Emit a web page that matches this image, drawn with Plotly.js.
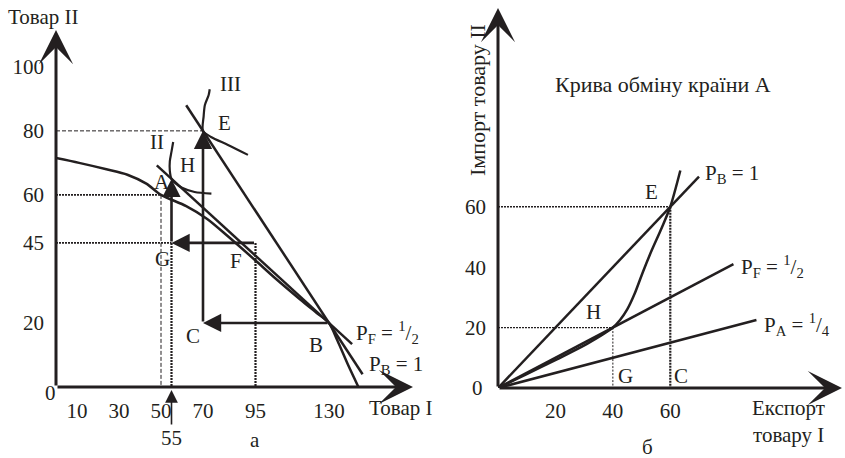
<!DOCTYPE html>
<html><head><meta charset="utf-8">
<script src="https://cdn.plot.ly/plotly-3.0.1.min.js"></script>
<style>html,body{margin:0;padding:0;background:#fff}#chart{width:845px;height:458px}</style>
</head><body><div id="chart"></div>
<script>
// ---------- Panel а: production frontier, price lines, indifference curves ----------
const ppfX = [0, 11, 24, 34, 43, 50, 62, 72, 82, 95, 104, 116, 124, 130, 134, 139, 144];
const ppfY = [71.5, 70, 68, 66.3, 63.5, 60, 56.5, 52.5, 47, 39.5, 34.2, 27.5, 23.2, 20, 14.5, 7, 0];
const icIIX = [55.8, 55, 54.2, 54.2, 55, 57, 60, 66, 74];
const icIIY = [76.5, 73.5, 70.5, 67.5, 65, 63.6, 62.2, 60.9, 60.4];
const icIIIX = [73.2, 72.7, 70.9, 70.3, 70, 73.8, 81.9, 91.4];
const icIIIY = [93, 91.2, 88.1, 84.5, 80, 78.1, 75.6, 72.5];
const priceFX = [48, 141];      // P_F = 1/2
const priceFY = [69.2, 13.4];
const priceBX = [62, 146];      // P_B = 1
const priceBY = [88, 4];
// named points of panel а
const ptA = [50, 60], ptB = [130, 20], ptC = [70, 20], ptE = [70, 80];
const ptF = [95, 45], ptG = [55, 45], ptH = [55, 65];
const aXTicks = [10, 30, 50, 70, 95, 130];
const aYTicks = [20, 45, 60, 80, 100];

// ---------- Panel б: offer curve of country A ----------
const offerX = [0, 10, 20.5, 31, 40, 42.5, 45, 47.5, 50.5, 53.5, 57, 60, 63.5];
const offerY = [0, 4.6, 9.5, 14.6, 20, 22.5, 26, 31, 38.5, 45.5, 53, 60, 72];
const rayBX = [0, 70], rayBY = [0, 70];     // P_B = 1
const rayFX = [0, 82], rayFY = [0, 41];     // P_F = 1/2
const rayAX = [0, 90], rayAY = [0, 22.5];   // P_A = 1/4
const bE = [60, 60], bH = [40, 20];
const bXTicks = [20, 40, 60];
const bYTicks = [20, 40, 60];

const INK = '#231f20';
const FONT = 'Liberation Serif, Times New Roman, serif';
const FS = 21;

function line(x, y, ax, opts) {
  const o = opts || {};
  return {
    x: x, y: y, xaxis: ax === 2 ? 'x2' : 'x', yaxis: ax === 2 ? 'y2' : 'y',
    mode: 'lines', hoverinfo: 'skip',
    line: { color: INK, width: o.width || 2.5, dash: o.dash || 'solid',
            shape: o.spline ? 'spline' : 'linear', smoothing: 0.8 }
  };
}

const thinDash = { width: 1, dash: '4px,2px' };
const denseDot = { width: 1.6, dash: '2px,1px' };
const thickDot = { width: 2.2, dash: '2px,1px' };

const traces = [
  // guides of panel а
  line([0, ptE[0]], [ptE[1], ptE[1]], 1, thinDash),
  line([0, ptA[0]], [ptA[1], ptA[1]], 1, denseDot),
  line([ptA[0], ptA[0]], [ptA[1], 0], 1, thinDash),
  line([0, ptG[0]], [ptG[1], ptG[1]], 1, denseDot),
  line([ptG[0], ptG[0]], [ptG[1], 0], 1, thickDot),
  line([ptF[0], ptF[0]], [ptF[1], 0], 1, thickDot),
  // curves of panel а
  line(ppfX, ppfY, 1, { spline: true }),
  line(icIIX, icIIY, 1, { spline: true, width: 2.2 }),
  line(icIIIX, icIIIY, 1, { spline: true, width: 2.2 }),
  line(priceFX, priceFY, 1),
  line(priceBX, priceBY, 1),
  // guides of panel б
  line([0, bE[0]], [bE[1], bE[1]], 2, denseDot),
  line([bE[0], bE[0]], [bE[1], 0], 2, thickDot),
  line([0, bH[0]], [bH[1], bH[1]], 2, { width: 1.3, dash: '2px,1px' }),
  line([bH[0], bH[0]], [bH[1], 0], 2, { width: 1, dash: '2px,1.5px' }),
  // curves of panel б
  line(rayBX, rayBY, 2),
  line(rayFX, rayFY, 2),
  line(rayAX, rayAY, 2),
  line(offerX, offerY, 2, { spline: true })
];

function txt(text, xref, yref, x, y, xs, ys, anchor, size) {
  return { text: text, xref: xref, yref: yref, x: x, y: y, xshift: xs || 0, yshift: ys || 0,
           showarrow: false, xanchor: anchor || 'center', yanchor: 'middle',
           font: { family: FONT, size: size || FS, color: INK } };
}
function arrow(xref, yref, from, to, w, head, size) {
  return { xref: xref, yref: yref, axref: xref, ayref: yref,
           x: to[0], y: to[1], ax: from[0], ay: from[1], text: '',
           showarrow: true, arrowhead: head, arrowsize: size, arrowwidth: w, arrowcolor: INK };
}
function py(p) { return 1 - p / 458; }
function ptxt(text, px, pyy, anchor, size, angle) {
  const a = txt(text, 'paper', 'paper', px / 845, py(pyy), 0, 0, anchor, size);
  if (angle) a.textangle = angle;
  return a;
}

const annotations = [
  // axes with arrow heads
  arrow('x', 'y', [0, 0], [170, 0], 3, 3, 1.9),
  arrow('x', 'y', [0, 0], [0, 111.5], 3, 3, 1.9),
  arrow('x2', 'y2', [0, 0], [119.8, 0], 3, 3, 1.9),
  arrow('x2', 'y2', [0, 0], [0, 125.8], 3, 3, 1.9),
  // trade triangles in panel а
  arrow('x', 'y', ptF, ptG, 2.6, 2, 1.4),
  arrow('x', 'y', ptG, ptH, 2.6, 2, 1.4),
  arrow('x', 'y', ptB, ptC, 2.6, 2, 1.4),
  arrow('x', 'y', ptC, ptE, 2.6, 2, 1.4),
  // pointer to 55 under the axis
  { xref: 'x', yref: 'paper', x: ptG[0], y: py(390), axref: 'pixel', ayref: 'pixel', ax: 0, ay: 36,
    text: '', showarrow: true, arrowhead: 2, arrowsize: 1.6, arrowwidth: 1.6, arrowcolor: INK },
  txt('55', 'x', 'paper', ptG[0], py(438)),
  // point labels, panel а
  txt('E', 'x', 'y', ptE[0], ptE[1], 21, 8),
  txt('H', 'x', 'y', ptH[0], ptH[1], 16, 14),
  txt('A', 'x', 'y', ptA[0], ptA[1], 1, 13),
  txt('G', 'x', 'y', ptG[0], ptG[1], -9, -16),
  txt('F', 'x', 'y', ptF[0], ptF[1], -20, -18),
  txt('C', 'x', 'y', ptC[0], ptC[1], -10, -13),
  txt('B', 'x', 'y', ptB[0], ptB[1], -13, -22),
  txt('II', 'x', 'y', icIIX[0], icIIY[0], -16, 0),
  txt('III', 'x', 'y', icIIIX[0], icIIIY[0], 21, 5),
  txt('P<sub>F</sub> = <sup>1</sup>/<sub>2</sub>', 'x', 'y', priceFX[1], priceFY[1], 2, 12, 'left'),
  txt('P<sub>B</sub> = 1', 'x', 'y', priceBX[1], priceBY[1], 4, 9, 'left'),
  txt('0', 'x', 'y', 0, 0, -6, -6),
  ptxt('Товар II', 6, 17, 'left'),
  ptxt('Товар I', 367, 408, 'left'),
  ptxt('а', 255, 440),
  // panel б
  txt('E', 'x2', 'y2', bE[0], bE[1], -19, 15),
  txt('H', 'x2', 'y2', bH[0], bH[1], -19, 16),
  txt('G', 'x2', 'y2', bH[0], 0, 13, 12),
  txt('C', 'x2', 'y2', bE[0], 0, 11, 12),
  txt('P<sub>B</sub> = 1', 'x2', 'y2', rayBX[1], rayBY[1], 4, 3, 'left'),
  txt('P<sub>F</sub> = <sup>1</sup>/<sub>2</sub>', 'x2', 'y2', rayFX[1], rayFY[1], 6, -2, 'left'),
  txt('P<sub>A</sub> = <sup>1</sup>/<sub>4</sub>', 'x2', 'y2', rayAX[1], rayAY[1], 6, -4, 'left'),
  txt('0', 'x2', 'y2', 0, 0, -21, 0),
  ptxt('Крива обміну країни А', 663, 85, 'center', 22),
  ptxt('Імпорт товару II', 477, 100, 'center', 22, -90),
  ptxt('Експорт', 788, 408),
  ptxt('товару I', 788, 435),
  ptxt('б', 647, 447)
];

function axis(domain, range, ticks, anchor, standoff) {
  return {
    domain: domain, range: range, anchor: anchor, fixedrange: true,
    showline: false, zeroline: false, showgrid: false, ticks: '',
    tickmode: 'array', tickvals: ticks, ticktext: ticks.map(String),
    ticklabelstandoff: standoff,
    tickfont: { family: FONT, size: FS, color: INK }
  };
}

const layout = {
  width: 845, height: 458, margin: { l: 0, r: 0, t: 0, b: 0 },
  paper_bgcolor: '#fff', plot_bgcolor: 'rgba(0,0,0,0)', showlegend: false,
  xaxis: axis([56 / 845, 413 / 845], [0, 170], aXTicks, 'y', 9),
  yaxis: axis([71 / 458, 428 / 458], [0, 111.5], aYTicks, 'x', 11),
  xaxis2: axis([498 / 845, 842 / 845], [0, 119.8], bXTicks, 'y2', 8),
  yaxis2: axis([70 / 458, 450 / 458], [0, 125.8], bYTicks, 'x2', 11),
  annotations: annotations
};

Plotly.newPlot('chart', traces, layout, { staticPlot: true, displayModeBar: false });
</script>
</body></html>
